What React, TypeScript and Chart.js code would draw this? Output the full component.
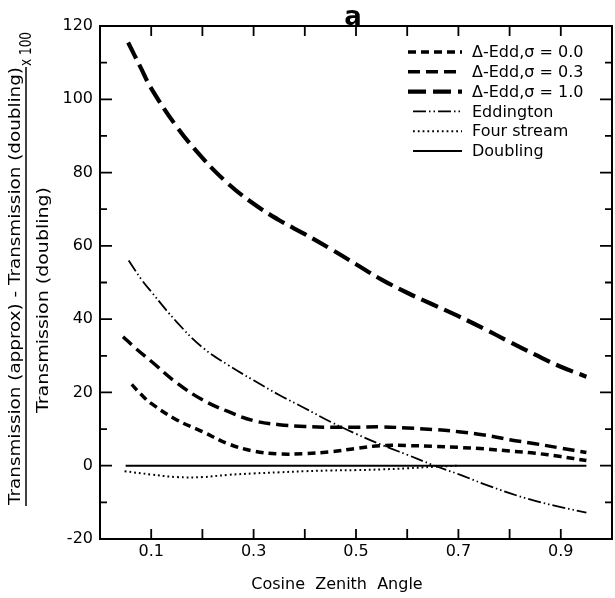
import React, { useEffect, useRef } from "react";
import { Chart, registerables } from "chart.js";
Chart.register(...registerables);

// Cosine zenith angle (x) and percent error (y) for each method
const X_S00 = [0.062, 0.08, 0.1, 0.15, 0.2, 0.25, 0.3, 0.35, 0.4, 0.45, 0.5, 0.55, 0.6, 0.65, 0.7, 0.75, 0.8, 0.85, 0.9, 0.95];
const Y_S00 = [22.2, 19.5, 17, 12.5, 9.3, 6, 4, 3.2, 3.3, 3.8, 4.7, 5.5, 5.5, 5.3, 5, 4.6, 4, 3.4, 2.5, 1.4];

const X_S03 = [0.045, 0.07, 0.1, 0.15, 0.2, 0.25, 0.3, 0.35, 0.4, 0.45, 0.5, 0.55, 0.6, 0.65, 0.7, 0.75, 0.8, 0.85, 0.9, 0.95];
const Y_S03 = [35.2, 32, 28.5, 22.6, 18, 14.8, 12.3, 11.2, 10.7, 10.5, 10.5, 10.6, 10.3, 9.9, 9.3, 8.4, 7.1, 6, 4.8, 3.6];

const X_S10 = [0.055, 0.08, 0.1, 0.15, 0.2, 0.25, 0.3, 0.35, 0.4, 0.45, 0.5, 0.55, 0.6, 0.65, 0.7, 0.75, 0.8, 0.85, 0.9, 0.95];
const Y_S10 = [115.5, 108.5, 103, 92.5, 84, 77, 71.5, 67, 63.2, 59.2, 55, 50.8, 47.2, 44, 40.8, 37.4, 33.8, 30.3, 27, 24.3];

const X_EDD = [0.056, 0.08, 0.1, 0.15, 0.2, 0.25, 0.3, 0.35, 0.4, 0.45, 0.5, 0.55, 0.6, 0.65, 0.7, 0.75, 0.8, 0.85, 0.9, 0.95];
const Y_EDD = [56, 51, 47.5, 39.2, 32.3, 27.5, 23.3, 19.3, 15.7, 12, 8.7, 5.7, 3, 0.2, -2.3, -5, -7.5, -9.6, -11.3, -12.8];

const X_FOUR = [0.048, 0.1, 0.15, 0.2, 0.25, 0.3, 0.35, 0.4, 0.45, 0.5, 0.55, 0.6, 0.65, 0.7];
const Y_FOUR = [-1.5, -2.4, -3.1, -3.1, -2.5, -2.1, -1.8, -1.5, -1.3, -1.2, -1, -0.7, -0.3, 0];

const X_DBL = [0.05, 0.95];
const Y_DBL = [0, 0];

const LABELS = ["\u0394-Edd,\u03c3 = 0.0", "\u0394-Edd,\u03c3 = 0.3", "\u0394-Edd,\u03c3 = 1.0", "Eddington", "Four stream", "Doubling"];
const X_TICK_LABELS = ["0.1", "0.3", "0.5", "0.7", "0.9"];
const TITLE = "a";
const X_TITLE = "Cosine  Zenith  Angle";
const Y_NUM = "Transmission (approx) - Transmission (doubling)";
const Y_DEN = "Transmission (doubling)";
const Y_MULT = "x 100";

const FONT = "'DejaVu Sans', sans-serif";

function pts(xs: number[], ys: number[]) {
  return xs.map((x, i) => ({ x, y: ys[i] }));
}

function drawStretched(ctx: CanvasRenderingContext2D, text: string, cx: number, cy: number, len: number, font: string) {
  ctx.save();
  ctx.font = font;
  const w = ctx.measureText(text).width;
  ctx.translate(cx, cy);
  ctx.rotate(-Math.PI / 2);
  ctx.scale(len / w, 1);
  ctx.textAlign = "center";
  ctx.textBaseline = "middle";
  ctx.fillText(text, 0, 0);
  ctx.restore();
}

const overlay = {
  id: "overlay",
  afterDraw(chart: any) {
    const { ctx, chartArea: ca, scales } = chart;
    const xs = scales.x;
    const ys = scales.y;
    ctx.save();
    ctx.strokeStyle = "#000";
    ctx.fillStyle = "#000";
    ctx.lineWidth = 2;
    ctx.setLineDash([]);
    ctx.strokeRect(ca.left, ca.top, ca.right - ca.left, ca.bottom - ca.top);
    // x ticks (inward, top and bottom)
    ctx.lineWidth = 1.8;
    for (let i = 1; i < 10; i++) {
      const px = xs.getPixelForValue(i / 10);
      ctx.beginPath();
      ctx.moveTo(px, ca.bottom);
      ctx.lineTo(px, ca.bottom - 10);
      ctx.moveTo(px, ca.top);
      ctx.lineTo(px, ca.top + 10);
      ctx.stroke();
    }
    // y ticks
    for (let v = -10; v < 120; v += 10) {
      const py = ys.getPixelForValue(v);
      const len = v % 20 === 0 ? 12 : 7;
      ctx.beginPath();
      ctx.moveTo(ca.left, py);
      ctx.lineTo(ca.left + len, py);
      ctx.moveTo(ca.right, py);
      ctx.lineTo(ca.right - len, py);
      ctx.stroke();
    }
    // legend
    const ds = chart.data.datasets;
    ctx.font = "16px " + FONT;
    ctx.textAlign = "left";
    ctx.textBaseline = "middle";
    for (let i = 0; i < ds.length; i++) {
      const ry = 52 + i * 19.8;
      ctx.save();
      ctx.lineWidth = ds[i].borderWidth;
      ctx.setLineDash(ds[i].borderDash || []);
      ctx.lineCap = "butt";
      ctx.beginPath();
      ctx.moveTo(i >= 3 ? 413 : 408, ry);
      ctx.lineTo(462, ry);
      ctx.stroke();
      ctx.restore();
      ctx.fillText(ds[i].label, 472, ry + 1);
    }
    // title
    ctx.font = "bold 26px " + FONT;
    ctx.textAlign = "center";
    ctx.textBaseline = "alphabetic";
    ctx.fillText(TITLE, 353, 25);
    // x title
    ctx.font = "16px " + FONT;
    ctx.textBaseline = "middle";
    ctx.fillText(X_TITLE, 337, 585);
    // y title (fraction)
    drawStretched(ctx, Y_NUM, 16, 286, 438, "15px " + FONT);
    ctx.lineWidth = 1.5;
    ctx.beginPath();
    ctx.moveTo(26, 506);
    ctx.lineTo(26, 67);
    ctx.stroke();
    drawStretched(ctx, Y_DEN, 44, 300, 226, "15px " + FONT);
    drawStretched(ctx, Y_MULT, 27, 49, 34, "16px " + FONT);
    ctx.restore();
  },
};

export default function App() {
  const ref = useRef<HTMLCanvasElement>(null);
  useEffect(() => {
    if (!ref.current) return;
    const common = { pointRadius: 0, borderColor: "#000", backgroundColor: "#000", fill: false, tension: 0.4, borderCapStyle: "butt" };
    const chart = new Chart(ref.current, {
      type: "line",
      data: {
        datasets: [
          { ...common, label: LABELS[0], data: pts(X_S00, Y_S00), borderWidth: 3.5, borderDash: [8, 5] },
          { ...common, label: LABELS[1], data: pts(X_S03, Y_S03), borderWidth: 3.5, borderDash: [12, 6] },
          { ...common, label: LABELS[2], data: pts(X_S10, Y_S10), borderWidth: 4.2, borderDash: [18, 7] },
          { ...common, label: LABELS[3], data: pts(X_EDD, Y_EDD), borderWidth: 1.8, borderDash: [13, 3, 1.5, 3, 1.5, 3] },
          { ...common, label: LABELS[4], data: pts(X_FOUR, Y_FOUR), borderWidth: 2, borderDash: [1.8, 3] },
          { ...common, label: LABELS[5], data: pts(X_DBL, Y_DBL), borderWidth: 2, borderDash: [] },
        ] as any,
      },
      options: {
        responsive: false,
        animation: false,
        devicePixelRatio: 1,
        layout: { padding: { top: 26, right: 2, left: 0, bottom: 0 } },
        plugins: { legend: { display: false }, tooltip: { enabled: false }, title: { display: false } },
        scales: {
          x: {
            type: "linear",
            min: 0,
            max: 1,
            afterFit: (s: any) => { s.height = 59; },
            grid: { display: false, drawTicks: false },
            border: { display: false },
            ticks: {
              stepSize: 0.1,
              autoSkip: false,
              maxRotation: 0,
              padding: 3,
              color: "#000",
              font: { family: FONT, size: 16 },
              callback: (v: any) => {
                const k = Math.round(Number(v) * 10);
                const idx = X_TICK_LABELS.indexOf((k / 10).toFixed(1));
                return idx >= 0 ? X_TICK_LABELS[idx] : "";
              },
            },
          },
          y: {
            type: "linear",
            min: -20,
            max: 120,
            afterFit: (s: any) => { s.width = 100; },
            grid: { display: false, drawTicks: false },
            border: { display: false },
            ticks: { stepSize: 20, padding: 7, color: "#000", font: { family: FONT, size: 16 } },
          },
        },
      },
      plugins: [overlay],
    } as any);
    return () => chart.destroy();
  }, []);
  return (
    <div style={{ position: "absolute", left: 0, top: 0, width: 615, height: 598, background: "#fff" }}>
      <canvas ref={ref} width={615} height={598} style={{ width: 615, height: 598 }} />
    </div>
  );
}
